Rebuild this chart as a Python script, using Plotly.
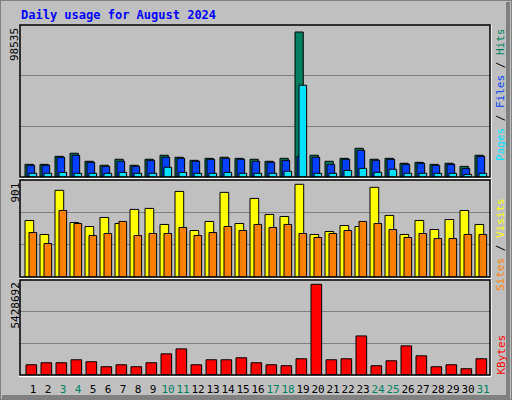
import plotly.graph_objects as go

days = list(range(1, 32))
day_labels = [str(d) for d in days]
weekend = [3, 4, 10, 11, 17, 18, 24, 25, 31]

hits = [8200, 8200, 13400, 15400, 10200, 7600, 11500, 7600, 11500, 14100, 12800, 10800, 12100, 12800, 12100,
        11500, 10200, 12100, 94000, 14100, 10200, 12100, 18600, 11500, 12100, 8900, 9500, 8200, 8900, 6900, 14100]
files = [7600, 7600, 12800, 14100, 9500, 6900, 10200, 6900, 10800, 12800, 12100, 10200, 11500, 12100, 11500,
         10200, 9500, 10800, 13400, 12800, 8200, 11500, 17300, 10800, 11500, 8200, 8900, 7600, 8200, 5600, 13400]
pages = [2400, 2400, 3000, 2400, 2400, 2400, 3000, 2400, 2400, 6300, 3000, 2400, 2400, 3000, 2400,
         2400, 2400, 3700, 59500, 2400, 2400, 4300, 5600, 3000, 5000, 2400, 2400, 2400, 2400, 1700, 2400]
visits = [525, 395, 805, 506, 469, 553, 497, 628, 637, 488, 795, 432, 516, 786, 497,
          730, 581, 562, 861, 395, 423, 478, 469, 833, 572, 395, 525, 441, 534, 618, 488]
sites = [413, 311, 618, 497, 385, 404, 516, 385, 404, 404, 460, 385, 413, 469, 432,
         488, 460, 488, 404, 367, 404, 432, 516, 497, 441, 367, 404, 357, 357, 395, 395]
kbytes = [586000, 700000, 700000, 870000, 757000, 473000, 586000, 473000, 700000, 1210000, 1494000, 586000,
          870000, 870000, 984000, 700000, 586000, 530000, 927000, 5183000, 870000, 927000, 2232000, 530000,
          813000, 1665000, 1097000, 473000, 586000, 359000, 927000]
max_top, max_mid, max_bot = 98535, 901, 5428692

W, H = 512, 400
def px(x): return x / W
def py(y): return 1 - y / H

fig = go.Figure()
line = dict(color="black", width=1)
def bar(vals, color, off, wd, ya):
    fig.add_trace(go.Bar(x=days, y=vals, offset=off, width=wd, marker=dict(color=color, line=line),
                         xaxis="x" if ya == "y" else "x" + ya[1:], yaxis=ya, showlegend=False))

bar(hits, "#008060", -0.533, 0.55, "y")
bar(files, "#0040FF", -0.4, 0.51, "y")
bar(pages, "#00E0FF", -0.267, 0.51, "y")
bar(visits, "#FFFF00", -0.533, 0.58, "y2")
bar(sites, "#FF8000", -0.267, 0.51, "y2")
bar(kbytes, "#FF0000", -0.467, 0.71, "y3")

xr = [0.133, 0.133 + 470 / 15]
xd = [px(20), px(490)]
ticktext = [f"<span style='color:#008060'>{l}</span>" if d in weekend else l for d, l in zip(days, day_labels)]
common_x = dict(range=xr, domain=xd, showgrid=False, zeroline=False, fixedrange=True)
def yax(mx, top, bot):
    return dict(range=[0, mx], domain=[py(bot), py(top)], tickvals=[mx / 3, 2 * mx / 3], showticklabels=False,
                gridcolor="#808080", gridwidth=1, zeroline=False, ticks="")

fig.update_layout(
    width=W, height=H, margin=dict(l=0, r=0, t=0, b=0),
    paper_bgcolor="#C0C0C0", plot_bgcolor="#C0C0C0", barmode="overlay",
    font=dict(family="DejaVu Sans Mono", size=11, color="black"),
    xaxis=dict(**common_x, showticklabels=False, anchor="y"),
    xaxis2=dict(**common_x, showticklabels=False, anchor="y2"),
    xaxis3=dict(**common_x, tickvals=days, ticktext=ticktext, ticks="", anchor="y3", tickangle=0,
                ticklabelstandoff=6, tickfont=dict(size=11, family="DejaVu Sans Mono")),
    yaxis=yax(max_top, 25, 177),
    yaxis2=yax(max_mid, 180, 277),
    yaxis3=yax(max_bot, 280, 375),
)

shapes = []
shapes.append(dict(type="rect", xref="paper", yref="paper", x0=0, x1=1, y0=0, y1=1,
                   line=dict(color="#808080", width=2)))
shapes.append(dict(type="line", xref="paper", yref="paper", x0=px(508), x1=px(508), y0=py(397), y1=py(2),
                   line=dict(color="#808080", width=4)))
shapes.append(dict(type="line", xref="paper", yref="paper", x0=px(2), x1=px(510), y0=py(397), y1=py(397),
                   line=dict(color="#808080", width=4)))
for top, bot in [(25, 177), (180, 277), (280, 375)]:
    shapes.append(dict(type="line", xref="paper", yref="paper", x0=px(19), x1=px(491), y0=py(bot + 1.5), y1=py(bot + 1.5),
                       line=dict(color="white", width=1.5)))
    shapes.append(dict(type="line", xref="paper", yref="paper", x0=px(491), x1=px(491), y0=py(bot + 1.5), y1=py(top),
                       line=dict(color="white", width=1.5)))
    shapes.append(dict(type="rect", xref="paper", yref="paper", x0=px(20), x1=px(490), y0=py(bot), y1=py(top),
                       line=dict(color="black", width=1.5)))
fig.update_layout(shapes=shapes)

ann = [
    dict(text="<b>Daily usage for August 2024</b>", x=px(19), y=py(6), xanchor="left", yanchor="top",
         font=dict(color="#0000FF", size=12)),
    dict(text=str(max_top), x=px(6), y=py(26), xanchor="left", yanchor="top", textangle=-90),
    dict(text=str(max_mid), x=px(6), y=py(181), xanchor="left", yanchor="top", textangle=-90),
    dict(text=str(max_bot), x=px(6), y=py(281), xanchor="left", yanchor="top", textangle=-90),
    dict(text="<span style='color:#00E0FF'>Pages</span> / <span style='color:#0040FF'>Files</span> / "
              "<span style='color:#008060'>Hits</span>", x=px(492), y=py(26), xanchor="left", yanchor="top", textangle=-90),
    dict(text="<span style='color:#FF8000'>Sites</span> / <span style='color:#FFFF00'>Visits</span>",
         x=px(492), y=py(196), xanchor="left", yanchor="top", textangle=-90),
    dict(text="<span style='color:#FF0000'>KBytes</span>", x=px(492), y=py(333), xanchor="left", yanchor="top",
         textangle=-90),
]
for a in ann:
    a.update(xref="paper", yref="paper", showarrow=False)
fig.update_layout(annotations=ann)

fig.write_html("out.html", config={"displayModeBar": False},
               post_script="document.body.style.margin='0';window.dispatchEvent(new Event('resize'));")
